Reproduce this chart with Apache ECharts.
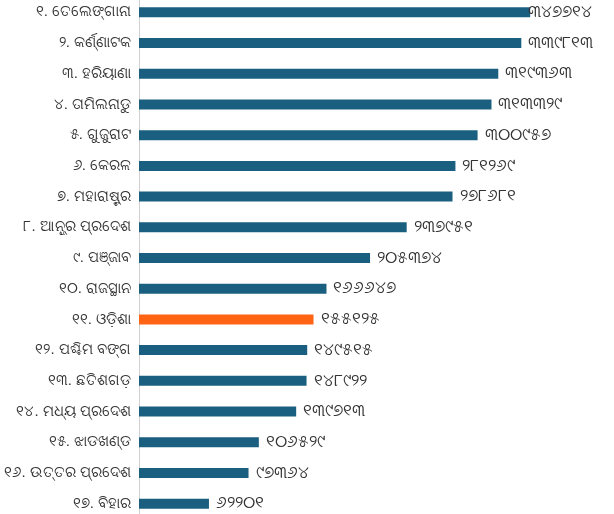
<!DOCTYPE html>
<html>
<head>
<meta charset="utf-8">
<script src="https://cdn.jsdelivr.net/npm/echarts@6/dist/echarts.min.js"></script>
<style>html,body{margin:0;padding:0;background:#fff;overflow:hidden;width:614px;height:514px}#c{position:absolute;left:0;top:-3px;width:614px;height:522px}</style>
</head>
<body>
<div id="c"></div>
<script>
const categories = ["୧. ତେଲେଙ୍ଗାନା","୨. କର୍ଣ୍ଣାଟକ","୩. ହରିୟାଣା","୪. ତାମିଲନାଡୁ","୫. ଗୁଜୁରାଟ","୬. କେରଳ","୭. ମହାରାଷ୍ଟ୍ର","୮. ଆନ୍ଧ୍ର ପ୍ରଦେଶ","୯. ପଞ୍ଜାବ","୧୦. ରାଜସ୍ଥାନ","୧୧. ଓଡ଼ିଶା","୧୨. ପଶ୍ଚିମ ବଙ୍ଗ","୧୩. ଛତିଶଗଡ଼","୧୪. ମଧ୍ୟ ପ୍ରଦେଶ","୧୫. ଝାଡଖଣ୍ଡ","୧୬. ଉତ୍ତର ପ୍ରଦେଶ","୧୭. ବିହାର"];
const values = [347714,339813,319363,313329,300957,281269,278681,237951,205374,166647,155125,149515,148922,139713,106529,97364,62201];
const valueLabels = ["୩୪୭୭୧୪","୩୩୯୮୧୩","୩୧୯୩୬୩","୩୧୩୩୨୯","୩୦୦୯୫୭","୨୮୧୨୬୯","୨୭୮୬୮୧","୨୩୭୯୫୧","୨୦୫୩୭୪","୧୬୬୬୪୭","୧୫୫୧୨୫","୧୪୯୫୧୫","୧୪୮୯୨୨","୧୩୯୭୧୩","୧୦୬୫୨୯","୯୭୩୬୪","୬୨୨୦୧"];
const highlight = "୧୧. ଓଡ଼ିଶା";
const blue = "#1b5f80", orange = "#ff6414";

const chart = echarts.init(document.getElementById('c'), null, {renderer:'canvas'});
chart.setOption({
  animation:false,
  grid:{left:139, right:25, top:0, bottom:0, containLabel:false, outerBoundsMode:'none'},
  xAxis:{type:'value', min:0, max:400000, show:false},
  yAxis:{type:'category', data:categories, inverse:true,
    axisLine:{show:true, lineStyle:{color:'#d0d0d0', width:1}},
    axisTick:{show:false},
    axisLabel:{color:'#333', fontSize:15, margin:8}},
  series:[{
    type:'bar', barWidth:10,
    data: values.map((v,i)=>({value:v,
      itemStyle:{color: categories[i]===highlight ? orange : blue},
      label: i===0 ? {offset:[-9,0]} : undefined})),
    label:{show:true, position:'right', distance:7, color:'#333', fontSize:17,
      formatter:p=>valueLabels[p.dataIndex]}
  }]
});
</script>
</body>
</html>
